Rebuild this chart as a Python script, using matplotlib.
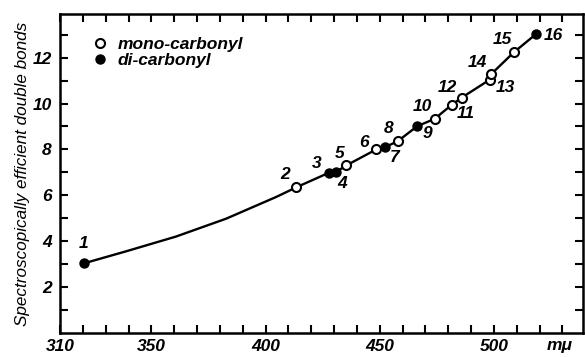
import numpy as np
from matplotlib import pyplot as plt

# compounds (wavelength in m-mu, double bonds)
wavelength = [320.6, 413.5, 427.9, 430.8, 435.3, 448.5, 452.4, 457.9,
              466.4, 474.0, 481.5, 485.8, 498.2, 498.9, 508.7, 518.5]
bonds = [3.04, 6.35, 6.99, 7.01, 7.30, 8.00, 8.10, 8.36,
         9.01, 9.33, 9.94, 10.25, 11.04, 11.29, 12.23, 13.03]
kind = ["di", "mono", "di", "di", "mono", "mono", "di", "mono",
        "di", "mono", "mono", "mono", "mono", "mono", "mono", "di"]
numbers = ["1", "2", "3", "4", "5", "6", "8", "7",
           "10", "9", "12", "11", "13", "14", "15", "16"]
# where each number sits relative to its point (pixels)
label_dx = [-1, -11, -13, 6, -7, -12, 3, -3, 5, -7, -4, 4, 16, -14, -11, 17]
label_dy = [20, 13, 9, -11, 12, 7, 19, -16, 20, -15, 17, -16, -8, 11, 13, -2]

# extra points read along the bent stretch between 1 and 2
curve_x = [338.6, 360.7, 382.7, 404.7]
curve_y = [3.55, 4.20, 4.98, 5.93]

plt.rcParams['font.family'] = ['Liberation Sans', 'DejaVu Sans']
plt.rcParams['font.weight'] = 'bold'
plt.rcParams['font.style'] = 'italic'

fig = plt.figure(figsize=(5.85, 3.57), dpi=100)
ax = fig.add_axes([0.1026, 0.0672, 0.894, 0.8936])

line_x = np.array(wavelength + curve_x)
line_y = np.array(bonds + curve_y)
order = np.argsort(line_x)
ax.plot(line_x[order], line_y[order], color='black', lw=1.7, zorder=2,
        solid_joinstyle='round')

w = np.array(wavelength)
b = np.array(bonds)
is_mono = np.array([k == "mono" for k in kind])
ax.plot(w[is_mono], b[is_mono], 'o', ms=6.5, mfc='white', mec='black', mew=1.5,
        linestyle='none', label='mono-carbonyl', zorder=3)
ax.plot(w[~is_mono], b[~is_mono], 'o', ms=6.5, mfc='black', mec='black',
        linestyle='none', label='di-carbonyl', zorder=3)

for i in range(len(numbers)):
    ax.annotate(numbers[i], (wavelength[i], bonds[i]),
                xytext=(label_dx[i], label_dy[i]), textcoords='offset pixels',
                ha='center', va='center', fontsize=12.5)

ax.set_xlim(310, 539)
ax.set_ylim(0, 13.9)
xt = list(range(310, 540, 10))
ax.set_xticks(xt)
ax.set_xticklabels([str(t) if t in (310, 350, 400, 450, 500) else '' for t in xt],
                   fontsize=12.5)
yt = list(range(1, 14))
ax.set_yticks(yt)
ax.set_yticklabels([str(t) if t % 2 == 0 else '' for t in yt], fontsize=12.5)
ax.tick_params(direction='in', length=6, width=1.5, top=True, right=True, pad=6)
ax.tick_params(axis='x', pad=4)
for s in ax.spines.values():
    s.set_linewidth(1.8)

ax.text(0.98, -0.015, 'mμ', ha='right', va='top', fontsize=12.5,
        transform=ax.transAxes, clip_on=False)
ax.set_ylabel('Spectroscopically efficient double bonds', fontsize=12.3, labelpad=2)

ax.legend(loc='upper left', frameon=False, fontsize=12.5, handletextpad=0.5,
          borderaxespad=0.2, labelspacing=0.05, handlelength=1.0,
          bbox_to_anchor=(0.04, 0.96))

fig.savefig('out.png', dpi=100)
